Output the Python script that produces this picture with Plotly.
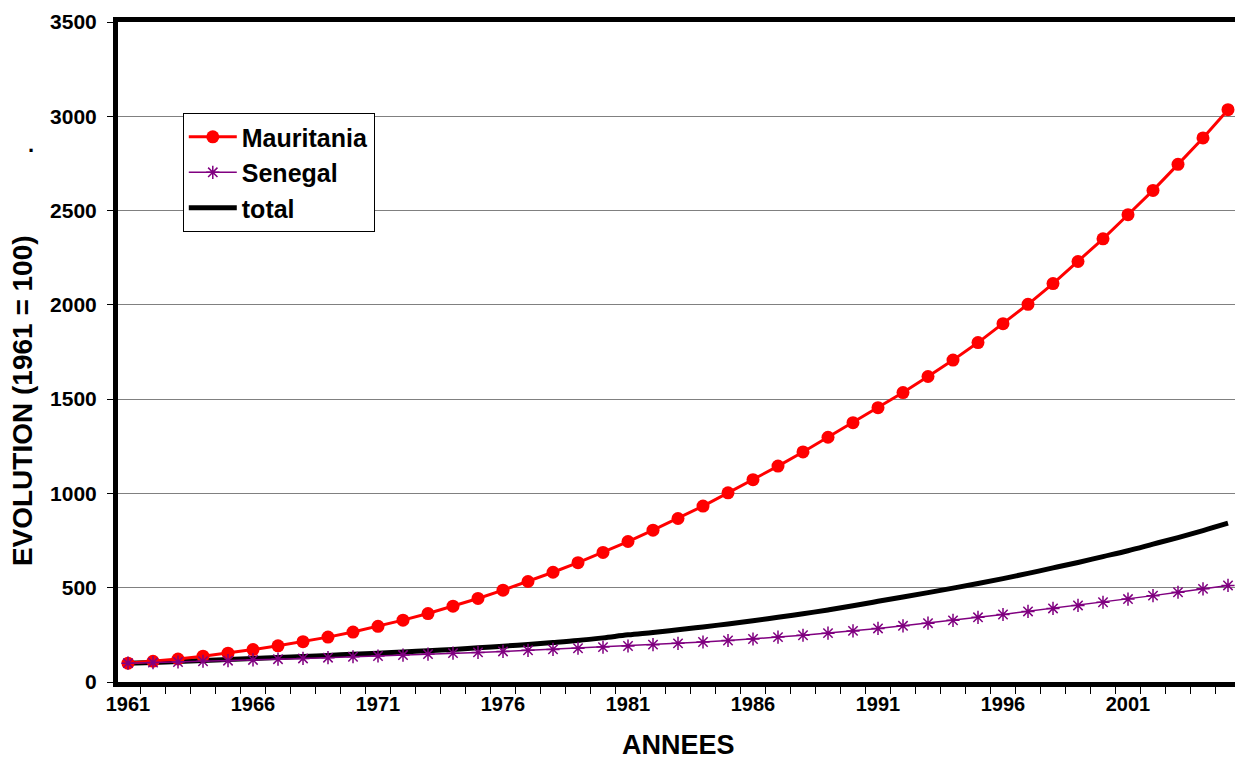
import plotly.graph_objects as go

FONT = "Arial, Liberation Sans, sans-serif"

years = list(range(1961, 2006))

mauritania = [
    100, 110, 122, 137, 153, 172, 192, 214, 238, 265,
    295, 328, 363, 402, 443, 487, 533, 582, 633, 687,
    745, 805, 867, 933, 1003, 1073, 1145, 1220, 1298, 1375,
    1455, 1535, 1620, 1707, 1800, 1900, 2003, 2113, 2230, 2350,
    2478, 2607, 2745, 2885, 3035,
]
senegal = [
    100, 103, 106, 110, 113, 117, 121, 125, 129, 134,
    138, 143, 148, 153, 157, 162, 168, 173, 179, 185,
    191, 198, 205, 212, 220, 228, 238, 248, 259, 271,
    284, 298, 312, 327, 343, 358, 374, 390, 406, 423,
    440, 458, 476, 494, 512,
]
total = [
    100, 104, 109, 114, 119, 125, 130, 135, 141, 147,
    153, 159, 166, 173, 181, 190, 199, 209, 220, 234,
    250, 263, 277, 292, 308, 325, 343, 362, 382, 404,
    428, 451, 474, 498, 522, 548, 576, 605, 634, 665,
    696, 731, 766, 803, 842,
]

x_cat = [str(y) for y in years]
tick_text = [str(y) if (y - 1961) % 5 == 0 else "" for y in years]

fig = go.Figure()
fig.add_trace(go.Scatter(
    x=x_cat, y=total, name="total", mode="lines",
    line=dict(color="black", width=5, shape="spline"),
    legendgroup="c", legendrank=3,
))
fig.add_trace(go.Scatter(
    x=x_cat, y=mauritania, name="Mauritania", mode="lines+markers",
    line=dict(color="#ff0000", width=3),
    marker=dict(symbol="circle", size=13, color="#ff0000"),
    legendgroup="a", legendrank=1,
))
fig.add_trace(go.Scatter(
    x=x_cat, y=senegal, name="Senegal", mode="lines+markers",
    line=dict(color="#800080", width=1.5),
    marker=dict(symbol="asterisk-open", size=11, color="#800080",
                line=dict(color="#800080", width=1.5)),
    legendgroup="b", legendrank=2,
))

fig.update_layout(
    width=1235, height=763,
    margin=dict(l=118, r=0, t=22, b=81),
    paper_bgcolor="white", plot_bgcolor="white",
    font=dict(family=FONT, color="black"),
    showlegend=True,
    legend=dict(
        x=0.058, y=0.862, xanchor="left", yanchor="top",
        bgcolor="white", bordercolor="black", borderwidth=1,
        font=dict(size=25, family=FONT, weight="bold"),
        traceorder="grouped", tracegroupgap=0, itemwidth=48,
    ),
    annotations=[
        dict(text="<b>EVOLUTION (1961 = 100)</b>", textangle=-90,
             xref="paper", yref="paper", x=-0.086, y=0.427,
             xanchor="center", yanchor="middle", showarrow=False,
             font=dict(size=28, family=FONT)),
        dict(text="<b>.</b>", xref="paper", yref="paper", x=-0.078, y=0.815,
             xanchor="center", yanchor="middle", showarrow=False,
             font=dict(size=22, family=FONT)),
        dict(text="<b>ANNEES</b>", xref="paper", yref="paper", x=0.502, y=-0.096,
             xanchor="center", yanchor="middle", showarrow=False,
             font=dict(size=27, family=FONT)),
    ],
)

fig.update_xaxes(
    type="category", range=[-0.4, 44.28],
    tickvals=x_cat, ticktext=tick_text, tickson="boundaries",
    ticks="outside", ticklen=7, tickwidth=1, tickcolor="black",
    tickfont=dict(size=20, family=FONT, weight="bold"),
    tickangle=0,
    showline=True, linecolor="black", linewidth=5, mirror=True,
    showgrid=False, zeroline=False,
)
fig.update_yaxes(
    range=[0, 3500], dtick=500, tick0=0,
    ticks="outside", ticklen=6, tickwidth=1, tickcolor="black",
    tickfont=dict(size=21, family=FONT, weight="bold"),
    ticklabelstandoff=6,
    showline=True, linecolor="black", linewidth=5,
    showgrid=True, gridcolor="#808080", gridwidth=1,
    zeroline=False,
)

# drop the default body margin so the figure fills the window
fig.write_html(
    "out.html",
    config={"displayModeBar": False},
    post_script="document.body.style.margin = '0px';",
)
